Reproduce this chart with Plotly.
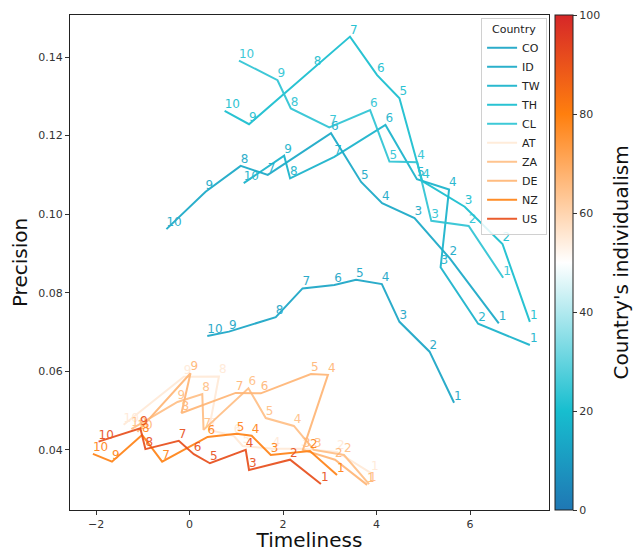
import plotly.graph_objects as go
from plotly.colors import sample_colorscale

# Period labels, drawn next to each point of a trajectory
periods = ["1", "2", "3", "4", "5", "6", "7", "8", "9", "10"]

countries = ["CO", "ID", "TW", "TH", "CL", "AT", "ZA", "DE", "NZ", "US"]
individualism = [13, 14, 17, 20, 23, 55, 65, 67, 79, 91]

# Timeliness per period (1..10)
tim_CO = [5.659, 5.135, 4.491, 4.114, 3.562, 3.097, 2.418, 1.845, 0.843, 0.380]
tim_ID = [6.616, 5.564, 4.813, 4.120, 3.670, 3.026, 1.674, 1.094, 0.343, -0.494]
tim_TW = [7.281, 6.174, 5.371, 5.552, 4.865, 4.191, 3.097, 2.152, 2.024, 1.159]
tim_TH = [7.281, 6.695, 5.886, 4.979, 4.491, 4.013, 3.433, 2.655, 1.273, 0.751]
tim_CL = [6.710, 5.972, 5.172, 4.871, 4.277, 3.863, 2.989, 2.167, 1.882, 1.058]
tim_AT = [3.884, 3.155, 2.382, 1.781, 1.137, 0.944, 0.414, 0.629, -0.122, -1.410]
tim_ZA = [3.841, 3.305, 2.661, 2.232, 1.631, 1.260, 0.300, 0.273, -0.258, -1.245]
tim_DE = [3.798, 3.112, 2.425, 2.961, 2.597, 1.524, 0.987, -0.172, 0.021, -1.116]
tim_NZ = [3.155, 2.575, 1.738, 1.330, 1.009, 0.386, -0.586, -1.015, -1.659, -2.067]
tim_US = [2.811, 2.152, 1.273, 1.202, 0.436, 0.092, -0.230, -0.944, -1.052, -1.946]

# Precision per period (1..10)
pre_CO = [0.0520, 0.0650, 0.0726, 0.0822, 0.0833, 0.0820, 0.0811, 0.0738, 0.0701, 0.0690]
pre_ID = [0.0722, 0.0888, 0.0990, 0.1028, 0.1082, 0.1206, 0.1100, 0.1123, 0.1057, 0.0962]
pre_TW = [0.0667, 0.0721, 0.0865, 0.1063, 0.1089, 0.1227, 0.1146, 0.1091, 0.1149, 0.1079]
pre_TH = [0.0726, 0.0924, 0.1019, 0.1084, 0.1295, 0.1354, 0.1452, 0.1371, 0.1229, 0.1263]
pre_CL = [0.0838, 0.0970, 0.0983, 0.1132, 0.1134, 0.1265, 0.1221, 0.1269, 0.1341, 0.1391]
pre_AT = [0.0341, 0.0395, 0.0403, 0.0403, 0.0410, 0.0436, 0.0451, 0.0587, 0.0586, 0.0464]
pre_ZA = [0.0313, 0.0387, 0.0400, 0.0461, 0.0481, 0.0557, 0.0451, 0.0542, 0.0522, 0.0453]
pre_DE = [0.0311, 0.0375, 0.0400, 0.0591, 0.0593, 0.0544, 0.0545, 0.0494, 0.0595, 0.0446]
pre_NZ = [0.0336, 0.0397, 0.0387, 0.0436, 0.0441, 0.0433, 0.0370, 0.0438, 0.0370, 0.0390]
pre_US = [0.0313, 0.0375, 0.0349, 0.0400, 0.0366, 0.0389, 0.0423, 0.0402, 0.0455, 0.0421]

x_ticks = [-2, 0, 2, 4, 6]
y_ticks = [0.04, 0.06, 0.08, 0.10, 0.12, 0.14]
cbar_ticks = [0, 20, 40, 60, 80, 100]

timeliness = [tim_CO, tim_ID, tim_TW, tim_TH, tim_CL, tim_AT, tim_ZA, tim_DE, tim_NZ, tim_US]
precision = [pre_CO, pre_ID, pre_TW, pre_TH, pre_CL, pre_AT, pre_ZA, pre_DE, pre_NZ, pre_US]

# Diverging blue-cyan-white-orange-red map for individualism (0..100)
cmap = [
    [0.0, "#1f77b4"],
    [0.2, "#17becf"],
    [0.5, "#ffffff"],
    [0.8, "#ff7f0e"],
    [1.0, "#d62728"],
]

FONT = "DejaVu Sans"
W, H = 641, 552
ML, MR, MT, MB = 70, 92, 15, 42

fig = go.Figure()

for name, ind, xs, ys in zip(countries, individualism, timeliness, precision):
    color = sample_colorscale(cmap, [ind / 100.0])[0]
    fig.add_trace(go.Scatter(
        x=xs, y=ys, name=name,
        mode="lines+text",
        text=periods,
        textposition="top right",
        textfont=dict(family=FONT, size=12, color=color),
        line=dict(color=color, width=2),
        opacity=0.92,
        cliponaxis=False,
    ))

# Invisible carrier for the individualism colour bar
fig.add_trace(go.Scatter(
    x=[0, 0], y=[0.1, 0.1], mode="markers", showlegend=False, hoverinfo="skip",
    marker=dict(
        size=0.1, opacity=0, color=[0, 100], cmin=0, cmax=100, colorscale=cmap,
        showscale=True,
        colorbar=dict(
            x=1.0125, xanchor="left", xpad=0, y=0.5, yanchor="middle",
            len=1.0, lenmode="fraction", ypad=0,
            thickness=18, outlinewidth=1, outlinecolor="#222",
            tickvals=cbar_ticks, ticks="outside", ticklen=4, tickcolor="#333",
            tickfont=dict(family=FONT, size=11, color="#333"),
        ),
    ),
))

axis_common = dict(
    showgrid=False, zeroline=False, showline=True, linecolor="#222",
    linewidth=1, mirror=True, ticks="outside", ticklen=4, tickcolor="#333",
    tickfont=dict(family=FONT, size=11, color="#333"), automargin=False,
)

fig.update_layout(
    width=W, height=H,
    margin=dict(l=ML, r=MR, t=MT, b=MB),
    paper_bgcolor="white", plot_bgcolor="white",
    font=dict(family=FONT),
    xaxis=dict(range=[-2.557, 7.69], tickvals=x_ticks,
               title=dict(text="Timeliness", font=dict(family=FONT, size=20, color="#111"),
                          standoff=6),
               **axis_common),
    yaxis=dict(range=[0.0247, 0.1507], tickvals=y_ticks, tickformat=".2f",
               title=dict(text="Precision", font=dict(family=FONT, size=20, color="#111"),
                          standoff=5),
               **axis_common),
    legend=dict(
        title=dict(text="Country", font=dict(family=FONT, size=11, color="#222"), side="top center"),
        x=0.996, y=0.994, xanchor="right", yanchor="top",
        bgcolor="rgba(255,255,255,0.85)", bordercolor="#d0d0d0", borderwidth=1,
        font=dict(family=FONT, size=11, color="#222"),
        tracegroupgap=0, itemwidth=30,
    ),
    annotations=[dict(
        text="Country's individualism", textangle=-90,
        x=(620 - ML) / (W - ML - MR), xref="paper", xanchor="center",
        y=0.5, yref="paper", yanchor="middle",
        showarrow=False, font=dict(family=FONT, size=20, color="#111"),
    )],
)

fig.write_html("out.html")
